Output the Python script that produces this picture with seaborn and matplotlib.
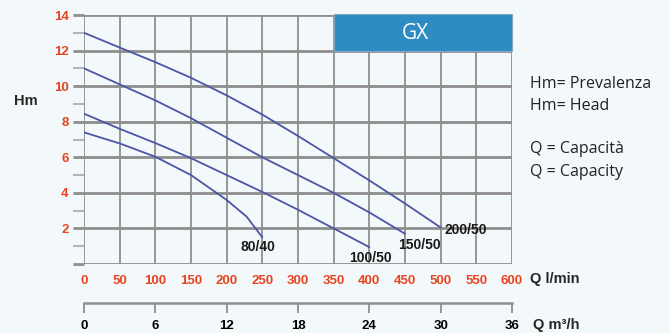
import numpy as np
import pandas as pd
import matplotlib
matplotlib.use("Agg")
import matplotlib.pyplot as plt
from matplotlib.patches import Rectangle
import seaborn as sns

# curve data: Q (l/min) -> Hm
q_200_50 = [0, 50, 100, 150, 200, 250, 300, 350, 400, 450, 500]
h_200_50 = [13.0, 12.17, 11.35, 10.47, 9.48, 8.4, 7.2, 5.95, 4.7, 3.4, 2.05]
q_150_50 = [0, 50, 100, 150, 200, 250, 300, 350, 400, 450]
h_150_50 = [11.0, 10.1, 9.2, 8.2, 7.1, 6.0, 5.0, 4.0, 2.9, 1.7]
q_100_50 = [0, 50, 100, 150, 200, 250, 300, 350, 400]
h_100_50 = [8.45, 7.6, 6.8, 5.95, 5.0, 4.05, 3.05, 2.0, 0.95]
q_80_40 = [0, 50, 100, 150, 200, 228, 250]
h_80_40 = [7.4, 6.78, 6.03, 5.0, 3.6, 2.66, 1.5]

models = ["200/50", "150/50", "100/50", "80/40"]
label_pos = {"200/50": (535, 1.91), "150/50": (470, 1.07), "100/50": (402, 0.34), "80/40": (244, 0.96)}

x_ticks = list(range(0, 601, 50))
y_ticks = list(range(2, 15, 2))
m3h_ticks = list(range(0, 37, 6))

frames = []
for name, q, h in [("200/50", q_200_50, h_200_50), ("150/50", q_150_50, h_150_50),
                   ("100/50", q_100_50, h_100_50), ("80/40", q_80_40, h_80_40)]:
    frames.append(pd.DataFrame({"Q": q, "H": h, "model": name}))
df = pd.concat(frames, ignore_index=True)

bg = "#f3f8fb"
grid = "#8e8e8e"
red = "#e8431f"
curve = "#4b56a6"

sns.set_style("white")
plt.rcParams["font.family"] = ["Liberation Sans", "DejaVu Sans"]

fig = plt.figure(figsize=(6.7, 3.33), dpi=100, facecolor=bg)
ax = fig.add_axes([84 / 670, 1 - 264 / 333, 428 / 670, 249 / 333])
ax.set_facecolor(bg)

sns.lineplot(data=df, x="Q", y="H", hue="model", palette=[curve] * 4,
             legend=False, ax=ax, linewidth=1.3, zorder=3, sort=False)

ax.set_xlim(0, 600)
ax.set_ylim(0, 14)
ax.set_xticks(x_ticks)
ax.set_yticks([0] + y_ticks)
ax.set_yticks(list(range(1, 14, 2)), minor=True)
ax.set_yticklabels([""] + [str(v) for v in y_ticks])
ax.set_xticklabels([str(v) for v in x_ticks])

for v in x_ticks:
    ax.axvline(v, color=grid, lw=1.3, zorder=1)
for v in [0] + y_ticks:
    ax.axhline(v, color=grid, lw=2.0, zorder=1)
for s in ax.spines.values():
    s.set_visible(False)

ax.tick_params(axis="x", length=5, width=1.3, color=grid, pad=3,
               labelcolor=red, labelsize=9.5)
ax.tick_params(axis="y", which="major", length=8, width=2.0, color=grid, pad=3,
               labelcolor=red, labelsize=9.5, left=True)
ax.tick_params(axis="y", which="minor", length=8, width=1.5, color="#b5b5b5", left=True)
for t in ax.get_xticklabels() + ax.get_yticklabels():
    t.set_fontweight("bold")
ax.set_xlabel("")
ax.set_ylabel("")

# GX header box
ax.add_patch(Rectangle((350, 12.0), 250, 2.05, facecolor="#2f8cc2", edgecolor="#7fa9c4",
                       lw=0.8, zorder=4, clip_on=False))
ax.text(465, 12.95, "GX", color="white", fontsize=15, ha="center", va="center",
        family="Open Sans", zorder=5)

for name in models:
    x, y = label_pos[name]
    ax.text(x, y, name, fontsize=10, fontweight="bold", color="#1a1a1a",
            ha="center", va="center", zorder=5)

# second axis in m3/h
sec = ax.secondary_xaxis(-39 / 249, functions=(lambda x: x * 0.06, lambda x: x / 0.06))
sec.set_xticks(m3h_ticks)
sec.spines["bottom"].set_color(grid)
sec.spines["bottom"].set_linewidth(1.8)
sec.tick_params(axis="x", length=7, width=1.3, color=grid, pad=5, labelcolor="black", labelsize=9.5)
for t in sec.get_xticklabels():
    t.set_fontweight("bold")

fig.text(26 / 670, 1 - 101 / 333, "Hm", fontsize=10.5, fontweight="bold", ha="center", va="center")
fig.text(530 / 670, 1 - 279 / 333, "Q l/min", fontsize=10.5, fontweight="bold", va="center")
fig.text(533 / 670, 1 - 325 / 333, "Q m³/h", fontsize=10.5, fontweight="bold", va="center")

for y, s in [(84, "Hm= Prevalenza"), (106, "Hm= Head"), (149, "Q = Capacità"), (172, "Q = Capacity")]:
    fig.text(530 / 670, 1 - y / 333, s, fontsize=11.5, family="Open Sans", color="#222222", va="center")

fig.savefig("out.png", dpi=100, facecolor=bg)
